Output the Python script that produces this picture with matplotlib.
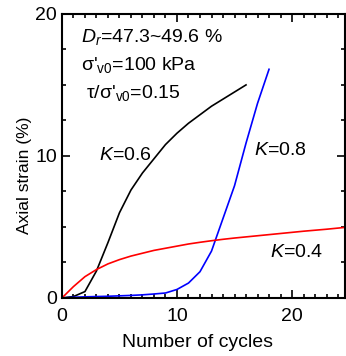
import matplotlib
matplotlib.use("Agg")
import matplotlib.pyplot as plt
from matplotlib.ticker import MultipleLocator

plt.rcParams['font.family'] = ['Liberation Sans', 'DejaVu Sans']
plt.rcParams['mathtext.fontset'] = 'custom'
plt.rcParams['mathtext.rm'] = 'Liberation Sans'
plt.rcParams['mathtext.it'] = 'Liberation Sans:italic'

# K = 0.6
ciclos_06 = [0, 1, 2, 3, 4, 5, 6, 7, 8, 9, 10, 11, 12, 13, 14, 15, 16]
def_06 = [0, 0.1, 0.45, 1.9, 3.9, 6.0, 7.6, 8.8, 9.8, 10.8, 11.6, 12.3, 12.9, 13.5, 14.0, 14.5, 15.0]

# K = 0.8
ciclos_08 = [0, 1, 2, 3, 4, 5, 6, 7, 8, 9, 10, 11, 12, 13, 14, 15, 16, 17, 18]
def_08 = [0, 0.05, 0.08, 0.1, 0.12, 0.15, 0.18, 0.22, 0.28, 0.35, 0.6, 1.05, 1.85, 3.3, 5.6, 7.9, 10.9, 13.7, 16.1]

# K = 0.4
ciclos_04 = list(range(0, 26))
def_04 = [0, 0.8, 1.5, 2.0, 2.4, 2.7, 2.95, 3.15, 3.35, 3.5, 3.65, 3.8, 3.92, 4.03,
          4.13, 4.22, 4.3, 4.38, 4.46, 4.54, 4.62, 4.7, 4.77, 4.84, 4.92, 5.0]

fig = plt.figure(figsize=(3.46, 3.56), dpi=100)
ax = fig.add_axes([0.179, 0.163, 0.818, 0.798])

ax.plot(ciclos_06, def_06, color="black", lw=1.2)
ax.plot(ciclos_08, def_08, color="blue", lw=1.2)
ax.plot(ciclos_04, def_04, color="red", lw=1.2)

ax.set_xlim(0, 24.6)
ax.set_ylim(0, 20)
ax.xaxis.set_major_locator(MultipleLocator(10))
ax.xaxis.set_minor_locator(MultipleLocator(1))
ax.yaxis.set_major_locator(MultipleLocator(10))
ax.yaxis.set_minor_locator(MultipleLocator(2.5))
ax.tick_params(which="both", direction="in", top=True, right=True, labelsize=14, width=1.2)
ax.tick_params(which="major", length=6)
ax.tick_params(which="minor", length=3)
ax.tick_params(axis="x", pad=7)
for s in ax.spines.values():
    s.set_linewidth(1.5)

ax.set_xlabel("Number of cycles", fontsize=14, va="center")
ax.xaxis.set_label_coords(0.479, -0.155)
ax.set_ylabel("Axial strain (%)", fontsize=12.5, va="center")
ax.yaxis.set_label_coords(-0.131, 0.433)

ax.text(1.7, 18.4, r"$D_r$=47.3~49.6 %", fontsize=14, va="center")
ax.text(1.7, 16.4, r"σ'$_{\rm v0}$=100 kPa", fontsize=14, va="center")
ax.text(2.1, 14.4, r"τ/σ'$_{\rm v0}$=0.15", fontsize=14, va="center")

ax.text(5.5, 10.0, r"$K$=0.6", fontsize=14, ha="center", va="center")
ax.text(19.0, 10.4, r"$K$=0.8", fontsize=14, ha="center", va="center")
ax.text(20.4, 3.2, r"$K$=0.4", fontsize=14, ha="center", va="center")

fig.savefig("out.png", dpi=100)
